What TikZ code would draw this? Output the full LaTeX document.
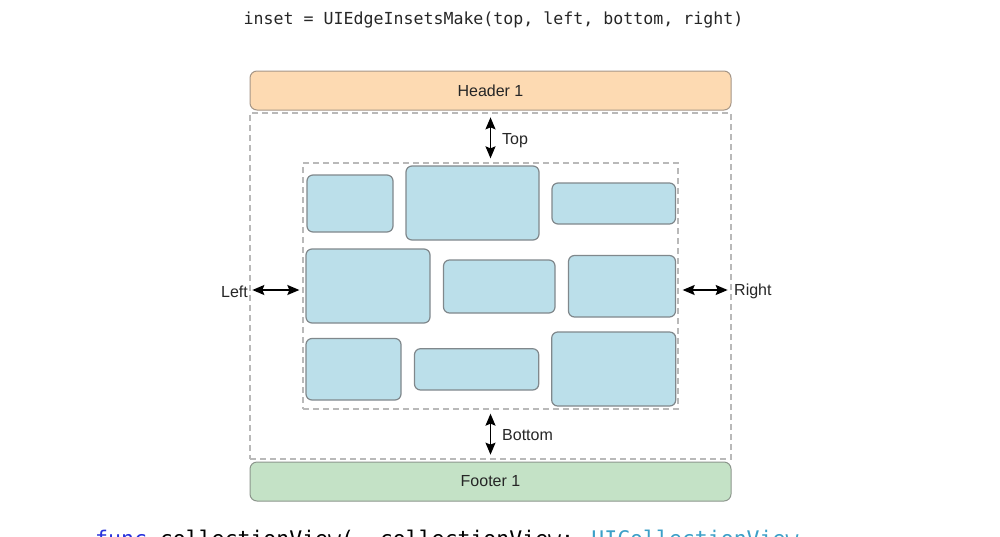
\documentclass[tikz,border=0pt]{standalone}
\usepackage{fontspec}
\setmainfont{Liberation Sans}
\newfontfamily\labfont{Liberation Sans}
\newfontfamily\codefont{DejaVu Sans Mono}
\usetikzlibrary{fit,arrows.meta}
\definecolor{hdrfill}{RGB}{253,218,178}
\definecolor{hdrdraw}{RGB}{165,150,135}
\definecolor{ftrfill}{RGB}{196,226,198}
\definecolor{ftrdraw}{RGB}{140,150,140}
\definecolor{cellfill}{RGB}{187,223,234}
\definecolor{celldraw}{RGB}{128,136,140}
\definecolor{dashgray}{RGB}{185,185,185}
\definecolor{kwblue}{RGB}{40,50,220}
\definecolor{typeteal}{RGB}{60,160,200}
\tikzset{
  bar/.style={draw, rounded corners=7pt, line width=1pt, inner sep=0pt},
  cell/.style={draw=celldraw, fill=cellfill, rounded corners=6pt, line width=1.2pt, inner sep=0pt},
  dashbox/.style={draw=dashgray, line width=1.3pt, dash pattern=on 6pt off 4pt, inner sep=0pt},
  dblarrow/.style={{Stealth[length=12pt,width=10pt,inset=2pt]}-{Stealth[length=12pt,width=10pt,inset=2pt]}, line width=1.5pt, black},
  lbl/.style={font=\labfont\fontsize{16}{18}\selectfont, inner sep=0pt, text=black!85}
}
\begin{document}
\begin{tikzpicture}[x=1pt,y=-1pt]
\useasboundingbox (0,0) rectangle (1000,536);
\clip (0,0) rectangle (1000,536);
\fill[white] (0,0) rectangle (1000,536);

\node[font=\codefont\fontsize{16.6}{18}\selectfont, inner sep=0pt, text=black!85] (title) at (493.5,20) {inset = UIEdgeInsetsMake(top, left, bottom, right)};

\node[bar, draw=hdrdraw, fill=hdrfill, fit={(250,71) (731,110)}] (header) {};
\node[dashbox, fit={(250,113) (731,459)}] (outer) {};
\node[dashbox, fit={(303,163) (678,409)}] (inner) {};
\node[bar, draw=ftrdraw, fill=ftrfill, fit={(250,462) (731,501)}] (footer) {};
\node[lbl] (htext) at (header.center) {Header 1};
\node[lbl] (ftext) at (footer.center) {Footer 1};

\node[cell, fit={(307,175) (393,232)}] (c1) {};
\node[cell, fit={(406,166) (539,240)}] (c2) {};
\node[cell, fit={(552,183) (675.5,224)}] (c3) {};
\node[cell, fit={(306,249) (430,323)}] (c4) {};
\node[cell, fit={(443.5,260) (555,313)}] (c5) {};
\node[cell, fit={(568.5,255.5) (675.5,317)}] (c6) {};
\node[cell, fit={(306,338.5) (401,400)}] (c7) {};
\node[cell, fit={(414.5,348.7) (538.7,390)}] (c8) {};
\node[cell, fit={(551.7,332) (675.7,406)}] (c9) {};

\draw[dblarrow] ([yshift=-5pt]outer.north) -- ([yshift=4pt]inner.north);
\draw[dblarrow] ([yshift=-4pt]inner.south) -- ([yshift=5pt]outer.south);
\draw[dblarrow] ([xshift=3pt,yshift=-4pt]outer.west) -- ([xshift=-3pt,yshift=-4pt]inner.west);
\draw[dblarrow] ([xshift=4pt,yshift=-4pt]inner.east) -- ([xshift=-4pt,yshift=-4pt]outer.east);

\node[lbl, anchor=west] (ltop) at (502,141) {Top};
\node[lbl, anchor=west] (lbottom) at (502,435) {Bottom};
\node[lbl, anchor=east] (lleft) at (248,291.5) {Left};
\node[lbl, anchor=west] (lright) at (734,291.5) {Right};

\node[font=\codefont\fontsize{21.5}{24}\selectfont, inner sep=0pt, anchor=base west] (code) at (95,546) {\textcolor{kwblue}{func} collectionView(\_ collectionView: \textcolor{typeteal}{UICollectionView}};
\end{tikzpicture}
\end{document}
